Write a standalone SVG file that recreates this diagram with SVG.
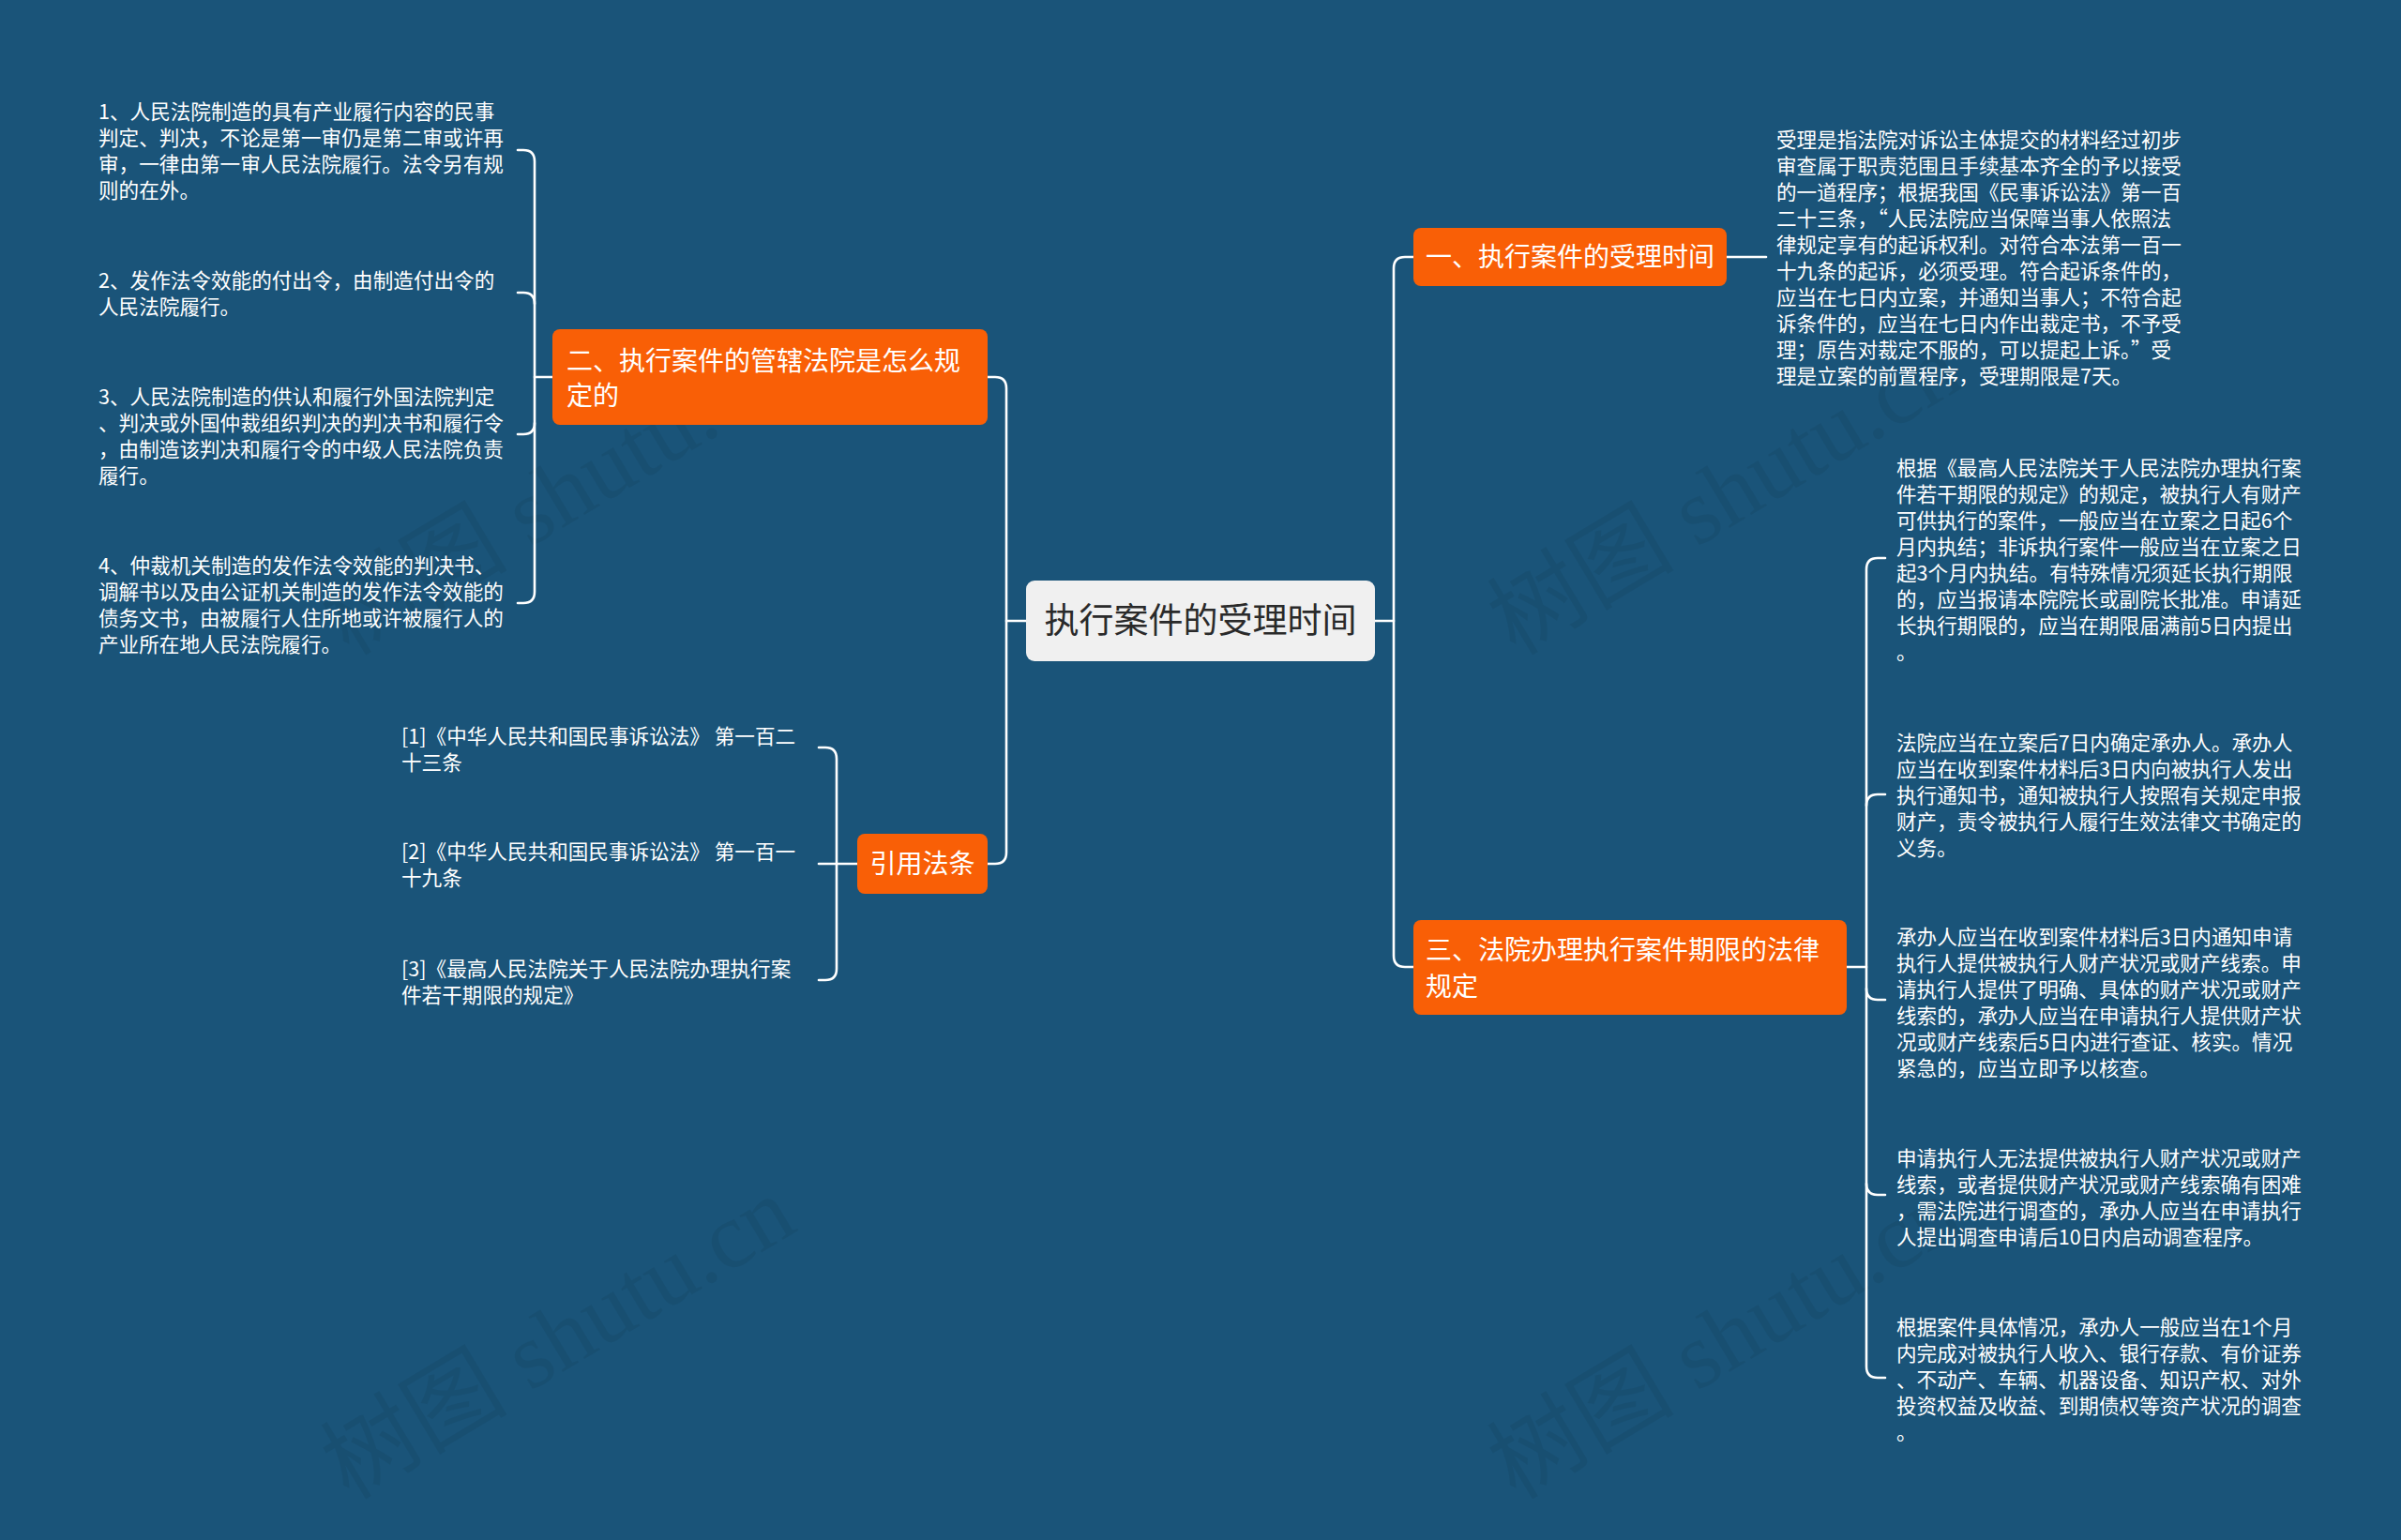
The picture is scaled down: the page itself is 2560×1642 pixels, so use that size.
<svg xmlns="http://www.w3.org/2000/svg" width="2560" height="1642" viewBox="0 0 2560 1642">
<style>
.bg{fill:#1a5479}
.cn{fill:none;stroke:#ffffff;stroke-width:2.6;stroke-linecap:round;stroke-linejoin:round}
.org{fill:#f95f06}
.ot{font-family:"Noto Sans CJK SC","Noto Sans",sans-serif;font-size:28px;fill:#ffffff}
.lt{font-family:"Noto Sans CJK SC","Noto Sans",sans-serif;font-size:21.6px;fill:#ffffff}
.ct{font-family:"Noto Sans CJK SC","Noto Sans",sans-serif;font-size:37px;fill:#2a2a2a}
.wm{font-family:"Liberation Serif","Noto Sans CJK SC",serif;font-size:100px;fill:#000000;fill-opacity:0.06}
</style>
<rect class="bg" x="0" y="0" width="2560" height="1642"/>
<g id="watermarks">
<text class="wm" transform="translate(372,700) rotate(-31)">树图 shutu.cn</text>
<text class="wm" transform="translate(1616,700) rotate(-31)">树图 shutu.cn</text>
<text class="wm" transform="translate(372,1600) rotate(-31)">树图 shutu.cn</text>
<text class="wm" transform="translate(1616,1600) rotate(-31)">树图 shutu.cn</text>
</g>
<g id="connectors">
<path class="cn" d="M1466,662 L1486,662"/>
<path class="cn" d="M1507,274 L1498,274 Q1486,274 1486,286 L1486,1019 Q1486,1031 1498,1031 L1507,1031"/>
<path class="cn" d="M1094,662 L1073,662"/>
<path class="cn" d="M1053,402 L1061,402 Q1073,402 1073,414 L1073,909 Q1073,921 1061,921 L1053,921"/>
<path class="cn" d="M589,402 L570,402"/>
<path class="cn" d="M552,160 L558,160 Q570,160 570,172 L570,631 Q570,643 558,643 L552,643"/>
<path class="cn" d="M552,312 L558,312 Q570,312 570,324"/>
<path class="cn" d="M552,463 L558,463 Q570,463 570,451"/>
<path class="cn" d="M914,921 L873,921"/>
<path class="cn" d="M873,797 L880,797 Q892,797 892,809 L892,1033 Q892,1045 880,1045 L873,1045"/>
<path class="cn" d="M1841,274 L1883,274"/>
<path class="cn" d="M1969,1031 L1990,1031"/>
<path class="cn" d="M2010,595 L2002,595 Q1990,595 1990,607 L1990,1457 Q1990,1469 2002,1469 L2010,1469"/>
<path class="cn" d="M2010,847 L2002,847 Q1990,847 1990,859"/>
<path class="cn" d="M2010,1066 L2002,1066 Q1990,1066 1990,1054"/>
<path class="cn" d="M2010,1274 L2002,1274 Q1990,1274 1990,1262"/>
</g>
<g id="root">
<rect x="1094" y="619" width="372" height="86" rx="9" fill="#f0f0f0"/>
<text class="ct" x="1280" y="675" text-anchor="middle">执行案件的受理时间</text>
</g>
<g id="node-1">
<rect class="org" x="1507" y="243" width="334" height="62" rx="8"/>
<text class="ot" x="1674" y="284" text-anchor="middle">一、执行案件的受理时间</text>
</g>
<g id="node-1-leaf">
<text class="lt" x="1894" y="157">
<tspan x="1894" y="157">受理是指法院对诉讼主体提交的材料经过初步</tspan>
<tspan x="1894" y="185">审查属于职责范围且手续基本齐全的予以接受</tspan>
<tspan x="1894" y="213">的一道程序；根据我国《民事诉讼法》第一百</tspan>
<tspan x="1894" y="241">二十三条，“人民法院应当保障当事人依照法</tspan>
<tspan x="1894" y="269">律规定享有的起诉权利。对符合本法第一百一</tspan>
<tspan x="1894" y="297">十九条的起诉，必须受理。符合起诉条件的，</tspan>
<tspan x="1894" y="325">应当在七日内立案，并通知当事人；不符合起</tspan>
<tspan x="1894" y="353">诉条件的，应当在七日内作出裁定书，不予受</tspan>
<tspan x="1894" y="381">理；原告对裁定不服的，可以提起上诉。”受</tspan>
<tspan x="1894" y="409">理是立案的前置程序，受理期限是7天。</tspan>
</text>
</g>
<g id="node-2">
<rect class="org" x="589" y="351" width="464" height="102" rx="8"/>
<text class="ot"><tspan x="604" y="395">二、执行案件的管辖法院是怎么规</tspan><tspan x="604" y="432">定的</tspan></text>
</g>
<g id="node-2-leaf-1">
<text class="lt"><tspan x="105" y="127">1、人民法院制造的具有产业履行内容的民事</tspan><tspan x="105" y="155">判定、判决，不论是第一审仍是第二审或许再</tspan><tspan x="105" y="183">审，一律由第一审人民法院履行。法令另有规</tspan><tspan x="105" y="211">则的在外。</tspan></text>
</g>
<g id="node-2-leaf-2">
<text class="lt"><tspan x="105" y="307">2、发作法令效能的付出令，由制造付出令的</tspan><tspan x="105" y="335">人民法院履行。</tspan></text>
</g>
<g id="node-2-leaf-3">
<text class="lt"><tspan x="105" y="431">3、人民法院制造的供认和履行外国法院判定</tspan><tspan x="105" y="459">、判决或外国仲裁组织判决的判决书和履行令</tspan><tspan x="105" y="487">，由制造该判决和履行令的中级人民法院负责</tspan><tspan x="105" y="515">履行。</tspan></text>
</g>
<g id="node-2-leaf-4">
<text class="lt"><tspan x="105" y="611">4、仲裁机关制造的发作法令效能的判决书、</tspan><tspan x="105" y="639">调解书以及由公证机关制造的发作法令效能的</tspan><tspan x="105" y="667">债务文书，由被履行人住所地或许被履行人的</tspan><tspan x="105" y="695">产业所在地人民法院履行。</tspan></text>
</g>
<g id="node-ref">
<rect class="org" x="914" y="889" width="139" height="64" rx="8"/>
<text class="ot" x="983.5" y="931" text-anchor="middle">引用法条</text>
</g>
<g id="ref-1">
<text class="lt"><tspan x="428" y="793">[1]《中华人民共和国民事诉讼法》 第一百二</tspan><tspan x="428" y="821">十三条</tspan></text>
</g>
<g id="ref-2">
<text class="lt"><tspan x="428" y="916">[2]《中华人民共和国民事诉讼法》 第一百一</tspan><tspan x="428" y="944">十九条</tspan></text>
</g>
<g id="ref-3">
<text class="lt"><tspan x="428" y="1041">[3]《最高人民法院关于人民法院办理执行案</tspan><tspan x="428" y="1069">件若干期限的规定》</tspan></text>
</g>
<g id="node-3">
<rect class="org" x="1507" y="981" width="462" height="101" rx="8"/>
<text class="ot"><tspan x="1520" y="1023">三、法院办理执行案件期限的法律</tspan><tspan x="1520" y="1062">规定</tspan></text>
</g>
<g id="node-3-leaf-1">
<text class="lt"><tspan x="2022" y="507">根据《最高人民法院关于人民法院办理执行案</tspan><tspan x="2022" y="535">件若干期限的规定》的规定，被执行人有财产</tspan><tspan x="2022" y="563">可供执行的案件，一般应当在立案之日起6个</tspan><tspan x="2022" y="591">月内执结；非诉执行案件一般应当在立案之日</tspan><tspan x="2022" y="619">起3个月内执结。有特殊情况须延长执行期限</tspan><tspan x="2022" y="647">的，应当报请本院院长或副院长批准。申请延</tspan><tspan x="2022" y="675">长执行期限的，应当在期限届满前5日内提出</tspan><tspan x="2022" y="703">。</tspan></text>
</g>
<g id="node-3-leaf-2">
<text class="lt"><tspan x="2022" y="800">法院应当在立案后7日内确定承办人。承办人</tspan><tspan x="2022" y="828">应当在收到案件材料后3日内向被执行人发出</tspan><tspan x="2022" y="856">执行通知书，通知被执行人按照有关规定申报</tspan><tspan x="2022" y="884">财产，责令被执行人履行生效法律文书确定的</tspan><tspan x="2022" y="912">义务。</tspan></text>
</g>
<g id="node-3-leaf-3">
<text class="lt"><tspan x="2022" y="1007">承办人应当在收到案件材料后3日内通知申请</tspan><tspan x="2022" y="1035">执行人提供被执行人财产状况或财产线索。申</tspan><tspan x="2022" y="1063">请执行人提供了明确、具体的财产状况或财产</tspan><tspan x="2022" y="1091">线索的，承办人应当在申请执行人提供财产状</tspan><tspan x="2022" y="1119">况或财产线索后5日内进行查证、核实。情况</tspan><tspan x="2022" y="1147">紧急的，应当立即予以核查。</tspan></text>
</g>
<g id="node-3-leaf-4">
<text class="lt"><tspan x="2022" y="1243">申请执行人无法提供被执行人财产状况或财产</tspan><tspan x="2022" y="1271">线索，或者提供财产状况或财产线索确有困难</tspan><tspan x="2022" y="1299">，需法院进行调查的，承办人应当在申请执行</tspan><tspan x="2022" y="1327">人提出调查申请后10日内启动调查程序。</tspan></text>
</g>
<g id="node-3-leaf-5">
<text class="lt"><tspan x="2022" y="1423">根据案件具体情况，承办人一般应当在1个月</tspan><tspan x="2022" y="1451">内完成对被执行人收入、银行存款、有价证券</tspan><tspan x="2022" y="1479">、不动产、车辆、机器设备、知识产权、对外</tspan><tspan x="2022" y="1507">投资权益及收益、到期债权等资产状况的调查</tspan><tspan x="2022" y="1535">。</tspan></text>
</g>
</svg>
